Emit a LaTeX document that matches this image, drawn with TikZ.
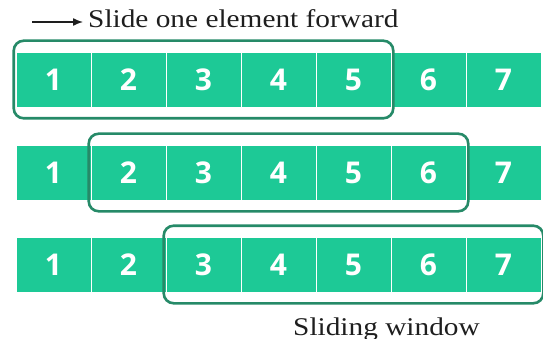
\documentclass[tikz,border=0pt]{standalone}
\usepackage{fontspec}
\setmainfont{Liberation Serif}
\usetikzlibrary{arrows.meta,fit}
\usepackage{xcolor}
\definecolor{cellgreen}{RGB}{29,201,150}
\definecolor{windowgreen}{RGB}{38,138,104}
\definecolor{captiongray}{RGB}{30,30,30}
\newfontfamily\captionfont{Liberation Serif}[FakeStretch=1.15]
\newfontfamily\digitfont{Open Sans}
\tikzset{
  cell/.style={draw=white,line width=0.6pt,fill=cellgreen,minimum width=75pt,minimum height=55pt,
    inner sep=0pt,text=white,font=\digitfont\bfseries\fontsize{30}{30}\selectfont},
  window/.style={draw=windowgreen,line width=2.6pt,rounded corners=10pt,inner xsep=2pt,inner ysep=11pt},
  caption/.style={inner sep=0pt,text=captiongray,font=\captionfont\fontsize{25.5}{30}\selectfont}
}
% one row of seven cells, named c<row><col>
\newcommand{\cellrow}[2]{\foreach \k in {1,...,7} {\node[cell] (c#1\k) at ({16+75*(\k-1)+37.5},#2) {\k};}}

\begin{document}
\begin{tikzpicture}[x=1pt,y=-1pt]
  \useasboundingbox (0,0) rectangle (543,339);
  \node[caption,anchor=base west] (title) at (88,28) {Slide one element forward};
  \coordinate (tail) at (32,22);
  \draw[-{Latex[length=10pt,width=8pt]},line width=1.4pt,captiongray,shorten >=5pt] (tail) -- (tail -| title.west);
  \cellrow{1}{79.5}
  \cellrow{2}{172.5}
  \cellrow{3}{264.5}
  \node[window,fit=(c11)(c15)] (win1) {};
  \node[window,fit=(c22)(c26)] (win2) {};
  \node[window,fit=(c33)(c37)] (win3) {};
  \node[caption,anchor=base west] (label) at (293,335) {Sliding window};
\end{tikzpicture}
\end{document}
